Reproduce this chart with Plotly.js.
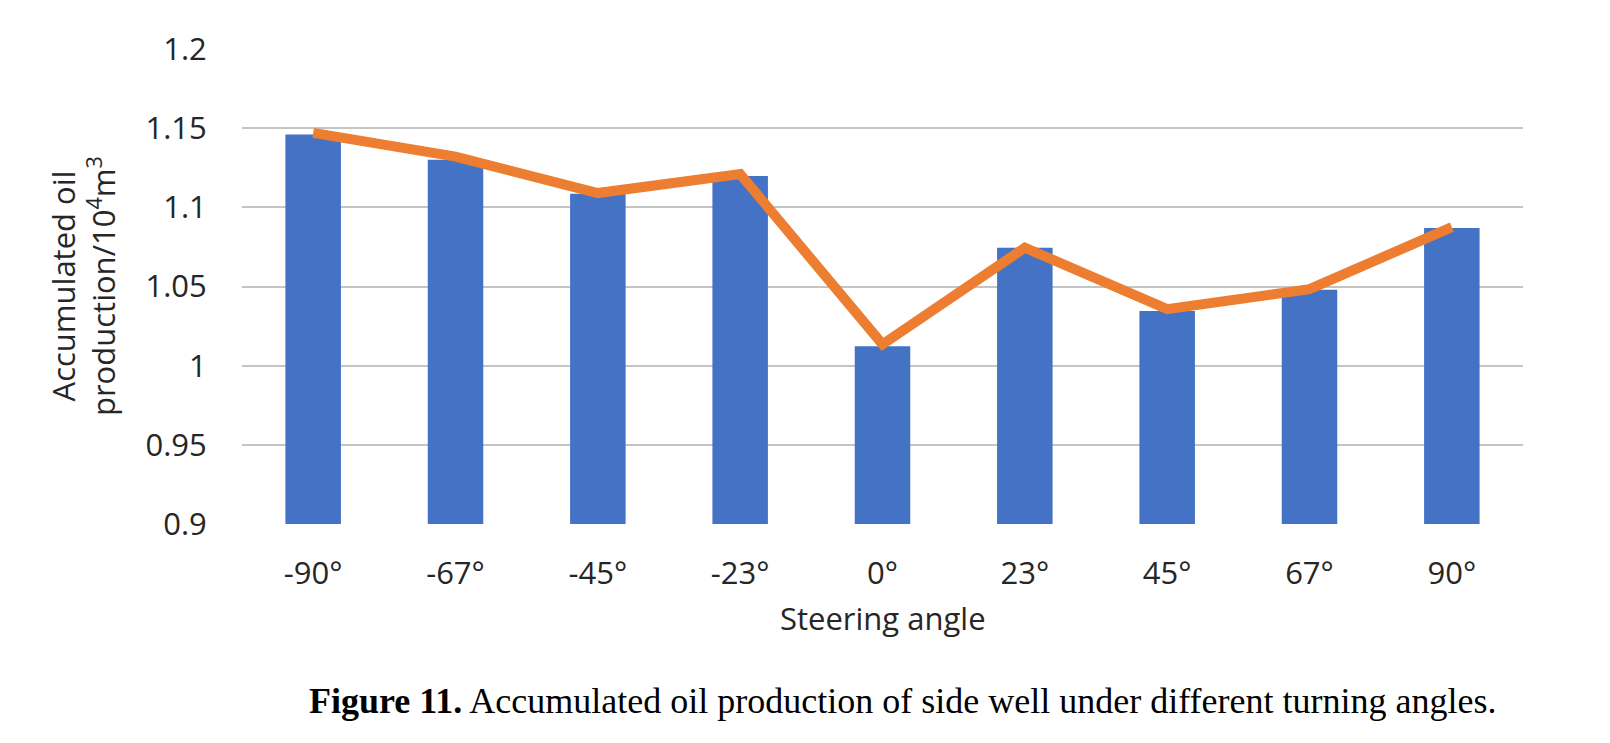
<!DOCTYPE html>
<html>
<head>
<meta charset="utf-8">
<script src="https://cdn.plot.ly/plotly-3.0.1.min.js"></script>
<style>html,body{margin:0;padding:0;background:#fff;}#chart{width:1610px;height:743px;}</style>
</head>
<body>
<div id="chart"></div>
<script>
const angles = ['-90°', '-67°', '-45°', '-23°', '0°', '23°', '45°', '67°', '90°'];
const barValues = [1.146, 1.130, 1.1086, 1.1198, 1.0122, 1.0744, 1.0345, 1.048, 1.0869];
const lineValues = [1.147, 1.132, 1.109, 1.121, 1.0135, 1.0745, 1.0357, 1.0483, 1.0875];
const yTitle = 'Accumulated oil<br>production/10<sup>4</sup>m<sup>3</sup>';
const xTitle = 'Steering angle';
const caption = '<b>Figure 11.</b> Accumulated oil production of side well under different turning angles.';

const axisFont = {family: 'Open Sans, sans-serif', size: 31, color: '#262626'};

const traces = [
  {type: 'bar', x: angles, y: barValues, marker: {color: '#4472C4'}, base: 0, hoverinfo: 'x+y'},
  {type: 'scatter', mode: 'lines', x: angles, y: lineValues, line: {color: '#ED7D31', width: 10}}
];

const layout = {
  width: 1610, height: 743,
  margin: {l: 242, r: 87, t: 49, b: 219},
  paper_bgcolor: '#ffffff', plot_bgcolor: '#ffffff',
  showlegend: false,
  bargap: 0.61,
  xaxis: {
    type: 'category', range: [-0.5, 8.5],
    showgrid: false, zeroline: false,
    showline: false,
    ticks: 'outside', ticklen: 22, tickcolor: 'rgba(0,0,0,0)',
    tickfont: axisFont
  },
  yaxis: {
    range: [0.9, 1.2], dtick: 0.05, tick0: 0.9,
    showgrid: true, gridcolor: '#c4c4c4', gridwidth: 2,
    zeroline: false, showline: false,
    ticks: 'outside', ticklen: 28, tickcolor: 'rgba(0,0,0,0)',
    tickfont: axisFont
  },
  annotations: [
    {xref: 'paper', yref: 'paper', x: -0.1245, y: 0.5, xanchor: 'center', yanchor: 'middle',
     textangle: -90, text: yTitle, showarrow: false, font: axisFont},
    {xref: 'paper', yref: 'paper', x: 0.5, y: -0.198, xanchor: 'center', yanchor: 'middle',
     text: xTitle, showarrow: false, font: axisFont},
    {xref: 'paper', yref: 'paper', x: 0.0507, y: -0.372, xanchor: 'left', yanchor: 'middle',
     text: caption, showarrow: false, font: {family: 'Liberation Serif, serif', size: 36, color: '#000'}}
  ]
};

Plotly.newPlot('chart', traces, layout, {displayModeBar: false, staticPlot: true});
</script>
</body>
</html>
